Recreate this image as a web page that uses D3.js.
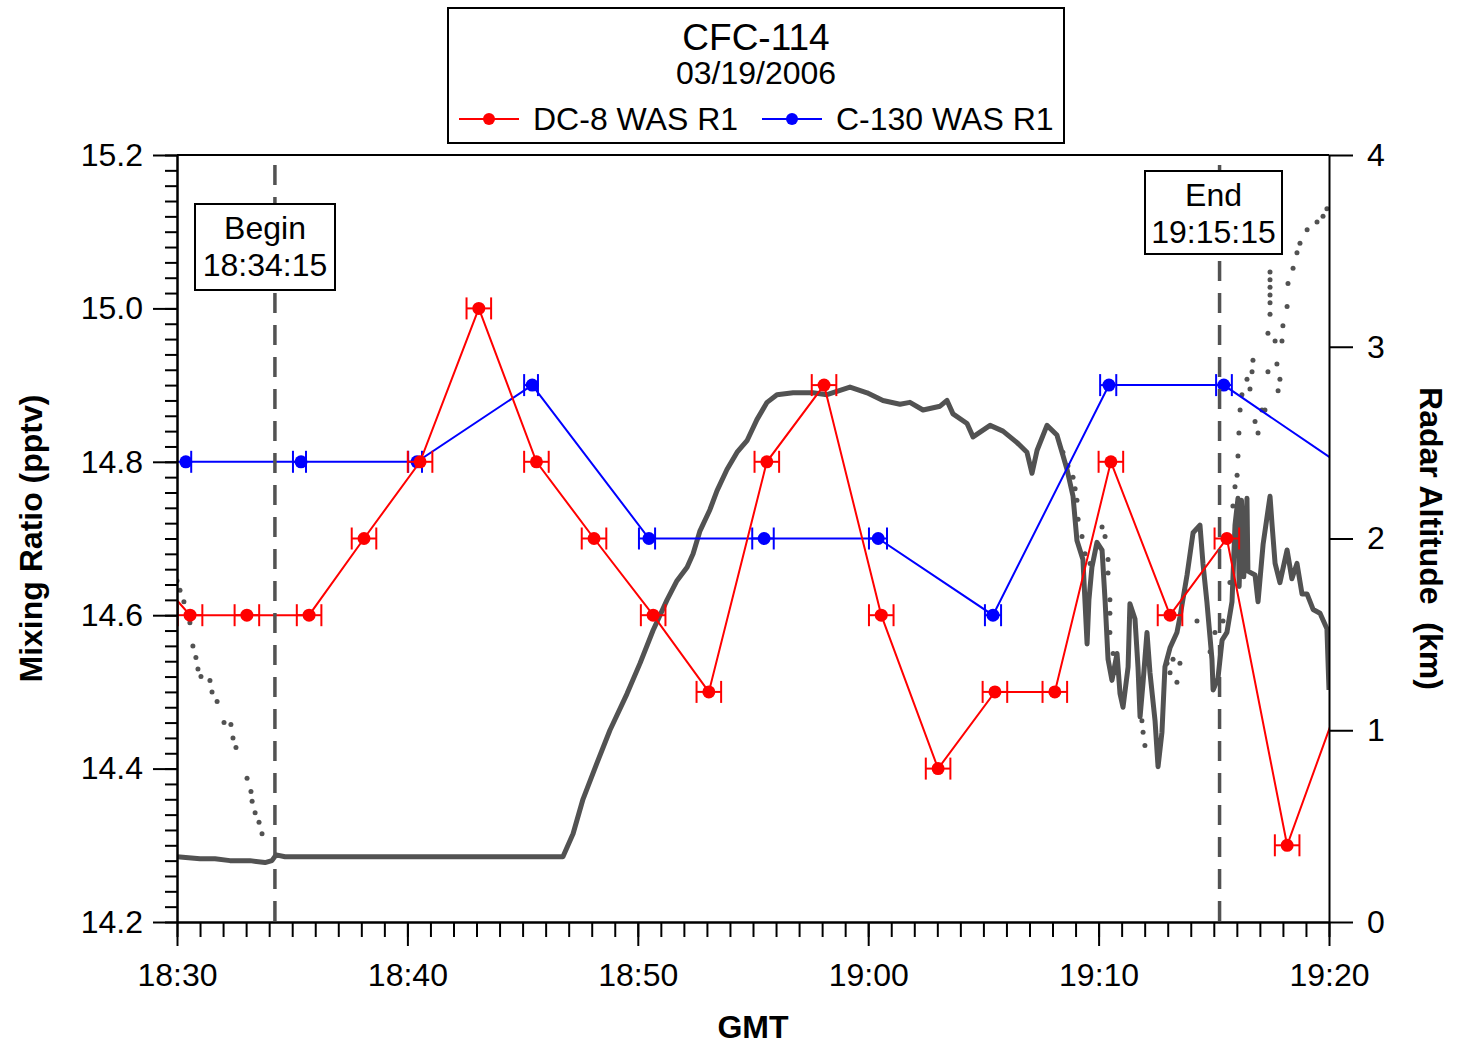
<!DOCTYPE html>
<html>
<head>
<meta charset="utf-8">
<script src="https://cdn.jsdelivr.net/npm/d3@7"></script>
<style>
  body { margin: 0; background: #fff; }
  text { font-family: "Liberation Sans", Arial, sans-serif; }
</style>
</head>
<body>
<div id="chart"></div>
<script>
// DC-8 WAS R1 samples (mixing ratio, pptv); first and last lie outside the window
var dc8Time = ["18:29:06","18:30:34","18:33:02","18:35:44","18:38:07","18:40:33","18:43:06","18:45:36",
  "18:48:06","18:50:40","18:53:05","18:55:36","18:58:05","19:00:34","19:03:02","19:05:30","19:08:06",
  "19:10:32","19:13:06","19:15:34","19:18:11","19:21:48"];
var dc8Value = [14.65,14.6,14.6,14.6,14.7,14.8,15.0,14.8,14.7,14.6,14.5,14.8,14.9,14.6,14.4,14.5,14.5,
  14.8,14.6,14.7,14.3,14.6];
var dc8HalfWidth = 32; // seconds

// C-130 WAS R1 samples
var c130Time = ["18:30:23","18:35:23","18:40:25","18:45:25","18:50:29","18:55:29","19:00:26","19:05:25",
  "19:10:27","19:15:26","19:25:12"];
var c130Start = ["18:30:00","18:35:02","18:40:02","18:45:04","18:50:03","18:54:58","19:00:02","19:05:04",
  "19:10:04","19:15:06",null];
var c130End = ["18:30:37","18:35:36","18:40:38","18:45:40","18:50:45","18:55:54","19:00:49","19:05:46",
  "19:10:46","19:15:47",null];
var c130Value = [14.8,14.8,14.8,14.9,14.7,14.7,14.7,14.6,14.9,14.9,14.7];

// radar altitude, minutes after 18:30 and km
var altMin = [0,1.0,1.65,2.3,3.17,3.82,4.12,4.3,4.69,6.21,9.68,13.15,15.76,16.75,17.19,17.62,18.23,18.79,
  19.53,20.1,20.66,21.27,21.7,22.14,22.4,22.7,23.13,23.44,23.87,24.31,24.74,25.17,25.61,26.04,26.74,27.6,
  28.21,29.21,29.95,30.64,31.38,31.81,32.38,33.12,33.42,33.68,34.29,34.55,35.29,35.85,36.46,36.89,37.11,
  37.33,37.76,38.19,38.46,38.63,38.89,39.06,39.32,39.5,39.58,39.71,39.93,40.15,40.28,40.41,40.58,40.8,
  40.93,41.06,41.28,41.36,41.58,41.71,41.8,41.93,42.1,42.23,42.45,42.58,42.75,42.88,43.1,43.4,43.53,43.84,
  44.1,44.4,44.53,44.7,44.92,44.97,45.18,45.36,45.57,45.79,45.92,46.05,46.1,46.2,46.3,46.44,46.48,46.79,46.92,47.14,
  47.44,47.53,47.66,47.87,48.18,48.39,48.61,48.83,49.05,49.31,49.61,49.91,50.0];
var altKm = [0.34,0.33,0.33,0.32,0.32,0.31,0.32,0.35,0.34,0.34,0.34,0.34,0.34,0.34,0.46,0.64,0.83,1.0,
  1.19,1.35,1.52,1.68,1.78,1.85,1.92,2.04,2.15,2.25,2.36,2.45,2.51,2.62,2.71,2.75,2.76,2.76,
  2.75,2.79,2.76,2.72,2.7,2.71,2.67,2.69,2.72,2.65,2.6,2.53,2.59,2.56,2.5,2.45,2.34,
  2.46,2.59,2.54,2.43,2.36,2.22,1.99,1.89,1.45,1.68,1.85,1.98,1.94,1.68,1.37,1.26,1.4,
  1.19,1.12,1.33,1.66,1.58,1.33,1.07,1.25,1.51,1.3,1.05,0.81,0.99,1.33,1.43,1.51,1.59,1.81,
  2.03,2.07,1.87,1.67,1.37,1.21,1.27,1.47,1.51,1.67,2.07,2.21,1.75,2.2,1.8,2.21,1.83,1.81,1.67,1.97,
  2.22,2.07,1.87,1.77,1.94,1.79,1.87,1.71,1.71,1.63,1.61,1.53,1.21];

// second altitude record (dotted), minutes after 18:30 and km
var alt2Min = [0,0.13,0.3,0.56,0.69,0.82,0.91,1.04,1.43,1.52,1.74,2.04,2.34,2.43,2.56,3.04,3.21,3.26,3.39,3.56,3.69,
  38.45,38.67,38.89,38.98,39.06,39.11,39.28,39.41,39.63,40.15,40.28,40.41,40.41,40.49,40.49,40.49,40.63,40.71,
  41.8,41.88,41.93,42.01,42.97,43.1,43.23,43.4,43.53,43.75,44.27,44.84,45.05,45.4,45.7,45.83,45.92,46.01,46.05,
  46.09,46.14,46.22,46.44,46.57,46.66,46.7,46.79,46.92,47.09,47.22,47.35,47.35,47.44,47.44,47.44,47.44,47.44,47.44,
  47.66,47.74,47.79,47.87,47.96,48.0,48.18,48.22,48.44,48.61,48.74,49.05,49.48,49.74,49.91];
var alt2Km = [1.78,1.73,1.67,1.56,1.44,1.38,1.32,1.28,1.26,1.2,1.15,1.04,1.03,0.96,0.91,0.75,0.68,0.63,0.57,0.52,0.46,
  2.45,2.38,2.32,2.26,2.2,2.1,2.01,1.92,1.87,2.06,2.01,1.89,1.82,1.68,1.61,1.51,1.4,1.3,
  1.16,1.05,0.99,0.92,1.35,1.3,1.37,1.25,1.35,1.73,1.57,1.41,1.51,1.57,1.77,2.17,2.27,2.33,2.43,
  2.55,2.67,2.75,2.83,2.78,2.87,2.93,2.61,2.55,2.67,2.67,2.87,3.07,3.17,3.23,3.27,3.31,3.35,3.39,
  3.03,2.91,2.77,2.83,3.03,3.11,3.21,3.33,3.41,3.49,3.54,3.61,3.65,3.68,3.72];

var yTicks = [14.2,14.4,14.6,14.8,15.0,15.2];
var altTicks = [0,1,2,3,4];
var timeTicks = ["18:30","18:40","18:50","19:00","19:10","19:20"];
var beginTime = "18:34:15", endTime = "19:15:15";

var W = 1457, H = 1045;
var pLeft = 177, pRight = 1329, pTop = 155, pBottom = 922;
var red = "#ff0000", blue = "#0000ff", grey = "#525252";

var parseTime = d3.timeParse("%H:%M:%S");
var parseHM = d3.timeParse("%H:%M");
var base = parseTime("18:30:00");
function fromMin(m) { return new Date(base.getTime() + m * 60000); }
function shift(d, s) { return new Date(d.getTime() + s * 1000); }

var svg = d3.select("#chart").append("svg")
  .attr("width", W).attr("height", H)
  .style("display", "block").style("background", "#fff");

var x = d3.scaleTime()
  .domain([parseHM(timeTicks[0]), parseHM(timeTicks[timeTicks.length - 1])])
  .range([pLeft, pRight]);
var y = d3.scaleLinear().domain([14.2, 15.2]).range([pBottom, pTop]);
var yAlt = d3.scaleLinear().domain([0, 4]).range([pBottom, pTop]);

svg.append("clipPath").attr("id", "plot")
  .append("rect").attr("x", pLeft).attr("y", pTop).attr("width", pRight - pLeft).attr("height", pBottom - pTop);

var plot = svg.append("g").attr("clip-path", "url(#plot)");

// altitude traces
var altData = altMin.map(function(m, i) { return [fromMin(m), altKm[i]]; });
plot.append("path")
  .datum(altData)
  .attr("fill", "none")
  .attr("stroke", grey)
  .attr("stroke-width", 5)
  .attr("stroke-linejoin", "round")
  .attr("d", d3.line().x(function(d) { return x(d[0]); }).y(function(d) { return yAlt(d[1]); }));

plot.selectAll(".dot2")
  .data(alt2Min.map(function(m, i) { return [fromMin(m), alt2Km[i]]; }))
  .enter().append("circle")
    .attr("cx", function(d) { return x(d[0]); })
    .attr("cy", function(d) { return yAlt(d[1]); })
    .attr("r", 2.5)
    .attr("fill", grey);

// begin / end markers
[beginTime, endTime].forEach(function(t) {
  svg.append("line")
    .attr("x1", x(parseTime(t))).attr("x2", x(parseTime(t)))
    .attr("y1", pTop + 10).attr("y2", pBottom)
    .attr("stroke", grey).attr("stroke-width", 3.5)
    .attr("stroke-dasharray", "20,12");
});

function noteBox(cx, y0, w, h, lines) {
  var g = svg.append("g");
  g.append("rect")
    .attr("x", cx - w / 2).attr("y", y0).attr("width", w).attr("height", h)
    .attr("fill", "#fff").attr("stroke", "#000").attr("stroke-width", 2);
  lines.forEach(function(s, i) {
    g.append("text")
      .attr("x", cx).attr("y", y0 + 35 + i * 37)
      .attr("text-anchor", "middle")
      .attr("font-size", "32px")
      .text(s);
  });
}
noteBox(265, 204, 140, 86, ["Begin", beginTime]);
noteBox(1213.5, 171, 137, 83, ["End", endTime]);

// sample series
function drawSeries(times, values, lo, hi, color) {
  var pts = times.map(function(t, i) { return { t: parseTime(t), v: values[i], lo: lo[i], hi: hi[i] }; });
  var g = plot.append("g");
  g.append("path")
    .datum(pts)
    .attr("fill", "none").attr("stroke", color).attr("stroke-width", 2)
    .attr("d", d3.line().x(function(d) { return x(d.t); }).y(function(d) { return y(d.v); }));
  var bars = g.selectAll(".bar").data(pts.filter(function(d) { return d.lo; }))
    .enter().append("g").attr("stroke", color).attr("stroke-width", 2);
  bars.append("line")
    .attr("x1", function(d) { return x(d.lo); }).attr("x2", function(d) { return x(d.hi); })
    .attr("y1", function(d) { return y(d.v); }).attr("y2", function(d) { return y(d.v); });
  bars.append("line")
    .attr("x1", function(d) { return x(d.lo); }).attr("x2", function(d) { return x(d.lo); })
    .attr("y1", function(d) { return y(d.v) - 11; }).attr("y2", function(d) { return y(d.v) + 11; });
  bars.append("line")
    .attr("x1", function(d) { return x(d.hi); }).attr("x2", function(d) { return x(d.hi); })
    .attr("y1", function(d) { return y(d.v) - 11; }).attr("y2", function(d) { return y(d.v) + 11; });
  g.selectAll(".pt").data(pts).enter().append("circle")
    .attr("cx", function(d) { return x(d.t); })
    .attr("cy", function(d) { return y(d.v); })
    .attr("r", 6.5).attr("fill", color);
}

drawSeries(c130Time, c130Value,
  c130Start.map(function(s) { return s ? parseTime(s) : null; }),
  c130End.map(function(s) { return s ? parseTime(s) : null; }), blue);
drawSeries(dc8Time, dc8Value,
  dc8Time.map(function(t, i) { return (i > 0 && i < dc8Time.length - 1) ? shift(parseTime(t), -dc8HalfWidth) : null; }),
  dc8Time.map(function(t) { return shift(parseTime(t), dc8HalfWidth); }), red);

// axes
function styleAxis(g) {
  g.attr("font-size", null).attr("font-family", null);
  g.selectAll("path, line").attr("stroke", "#000").attr("stroke-width", 2);
  g.selectAll("text").attr("font-size", "32px").attr("fill", "#000");
}

var minorY = d3.range(0, 51).map(function(i) { return 14.2 + i * 0.02; });
svg.append("g").attr("transform", "translate(" + pLeft + ",0)")
  .call(d3.axisLeft(y).tickValues(minorY).tickSize(12).tickSizeOuter(0).tickFormat(""))
  .call(styleAxis);
svg.append("g").attr("transform", "translate(" + pLeft + ",0)")
  .call(d3.axisLeft(y).tickValues(yTicks).tickSize(24).tickSizeOuter(0).tickPadding(10).tickFormat(d3.format(".1f")))
  .call(styleAxis);

var minorX = d3.timeMinute.range(x.domain()[0], shift(x.domain()[1], 1));
svg.append("g").attr("transform", "translate(0," + pBottom + ")")
  .call(d3.axisBottom(x).tickValues(minorX).tickSize(15).tickSizeOuter(0).tickFormat(""))
  .call(styleAxis);
svg.append("g").attr("transform", "translate(0," + pBottom + ")")
  .call(d3.axisBottom(x).tickValues(timeTicks.map(parseHM)).tickSize(24).tickSizeOuter(0).tickPadding(17)
    .tickFormat(d3.timeFormat("%H:%M")))
  .call(styleAxis);

svg.append("g").attr("transform", "translate(" + pRight + ",0)")
  .call(d3.axisRight(yAlt).tickValues(altTicks).tickSize(24).tickSizeOuter(0).tickPadding(14).tickFormat(d3.format("d")))
  .call(styleAxis);

svg.append("line")
  .attr("x1", pLeft).attr("x2", pRight).attr("y1", pTop).attr("y2", pTop)
  .attr("stroke", "#000").attr("stroke-width", 2);

// axis titles
svg.append("text")
  .attr("transform", "translate(42," + ((pTop + pBottom) / 2) + ") rotate(-90)")
  .attr("text-anchor", "middle").attr("font-size", "32px").attr("font-weight", "bold")
  .text("Mixing Ratio (pptv)");
svg.append("text")
  .attr("transform", "translate(1420," + ((pTop + pBottom) / 2) + ") rotate(90)")
  .attr("text-anchor", "middle").attr("font-size", "32px").attr("font-weight", "bold")
  .attr("xml:space", "preserve").style("white-space", "pre")
  .text("Radar Altitude  (km)");
svg.append("text")
  .attr("x", 753).attr("y", 1038)
  .attr("text-anchor", "middle").attr("font-size", "32px").attr("font-weight", "bold")
  .text("GMT");

// title + legend box
var lg = svg.append("g");
lg.append("rect").attr("x", 448).attr("y", 8).attr("width", 616).attr("height", 135)
  .attr("fill", "#fff").attr("stroke", "#000").attr("stroke-width", 2);
lg.append("text").attr("x", 756).attr("y", 50).attr("text-anchor", "middle")
  .attr("font-size", "37px").text("CFC-114");
lg.append("text").attr("x", 756).attr("y", 84).attr("text-anchor", "middle")
  .attr("font-size", "32px").text("03/19/2006");

var legendItems = [
  { label: "DC-8 WAS R1", color: red, x0: 459 },
  { label: "C-130 WAS R1", color: blue, x0: 762 }
];
legendItems.forEach(function(d) {
  lg.append("line").attr("x1", d.x0).attr("x2", d.x0 + 60).attr("y1", 119).attr("y2", 119)
    .attr("stroke", d.color).attr("stroke-width", 2);
  lg.append("circle").attr("cx", d.x0 + 30).attr("cy", 119).attr("r", 6).attr("fill", d.color);
  lg.append("text").attr("x", d.x0 + 74).attr("y", 130).attr("font-size", "32px").text(d.label);
});
</script>
</body>
</html>
